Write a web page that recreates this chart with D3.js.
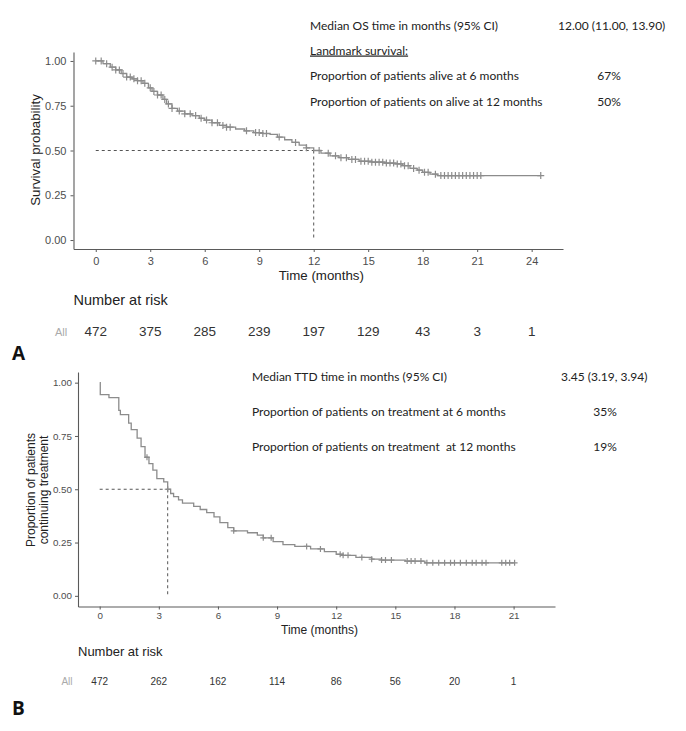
<!DOCTYPE html>
<html>
<head>
<meta charset="utf-8">
<script src="https://cdn.jsdelivr.net/npm/d3@7"></script>
<style>
  body { margin: 0; background: #fff; }
  svg { display: block; }
</style>
</head>
<body>
<div id="chart"></div>
<script>
// ---- panel A: overall survival ----
var osTimes = [0, 0.4, 0.8, 1.1, 1.4, 1.7, 2.0, 2.3, 2.6, 2.9, 3.1, 3.4, 3.7, 3.9, 4.2, 4.5, 4.9, 5.3, 5.7, 6.0,
  6.4, 6.8, 7.2, 7.7, 8.2, 8.7, 9.2, 9.6, 10.0, 10.4, 10.8, 11.2, 11.6, 12.0, 12.4, 12.9, 13.4, 13.9, 14.5,
  15.2, 15.9, 16.5, 16.9, 17.3, 17.7, 18.0, 18.4, 18.8, 24.5];
var osSurv = [1, 0.985, 0.965, 0.95, 0.93, 0.91, 0.9, 0.89, 0.875, 0.85, 0.83, 0.81, 0.785, 0.76, 0.735, 0.72, 0.705, 0.695, 0.68, 0.67,
  0.655, 0.64, 0.63, 0.62, 0.61, 0.6, 0.595, 0.59, 0.575, 0.56, 0.545, 0.53, 0.515, 0.5, 0.485, 0.47, 0.46, 0.45, 0.44,
  0.435, 0.43, 0.425, 0.415, 0.4, 0.39, 0.378, 0.368, 0.36, 0.36];
var osCensor = [0, 0.3, 0.6, 0.9, 1.1, 1.3, 1.5, 1.7, 1.9, 2.1, 2.3, 2.5, 2.7, 3.0, 3.2, 3.4, 3.6, 3.8, 4.0, 4.2,
  4.6, 4.9, 5.2, 5.5, 5.8, 6.1, 6.4, 6.7, 7.0, 7.2, 7.4, 8.3, 8.8, 9.0, 9.2, 9.4, 10.1, 11.0, 11.6, 12.3, 12.8,
  13.2, 13.5, 13.8, 14.1, 14.3, 14.6, 14.8, 15.0, 15.2, 15.4, 15.6, 15.8, 16.0, 16.2, 16.4, 16.6, 16.8, 17.0,
  17.2, 17.5, 17.8, 18.1, 18.3, 18.7, 19.0, 19.2, 19.4, 19.6, 19.8, 20.0, 20.2, 20.4, 20.6, 20.8, 21.0, 21.2, 24.5];
var osTicks = [0, 3, 6, 9, 12, 15, 18, 21, 24];
var osRisk = [472, 375, 285, 239, 197, 129, 43, 3, 1];
var osMedian = 12.0;
var osLabels = ["Median OS time in months (95% CI)", "Landmark survival:",
  "Proportion of patients alive at 6 months", "Proportion of patients on alive at 12 months"];
var osValues = ["12.00 (11.00, 13.90)", "", "67%", "50%"];

// ---- panel B: time to treatment discontinuation ----
var ttdTimes = [0, 0.03, 0.47, 0.97, 1.05, 1.47, 1.6, 1.9, 2.1, 2.3, 2.5, 2.7, 2.9, 3.25, 3.45, 3.6, 3.75, 4.0, 4.2, 4.77,
  5.1, 5.43, 5.8, 6.1, 6.5, 6.8, 7.5, 8.0, 8.3, 8.8, 9.3, 9.9, 10.7, 11.4, 12.0, 12.35, 13.0, 13.8, 14.3, 15.5, 16.5, 21.05];
var ttdSurv = [1, 0.944, 0.93, 0.87, 0.85, 0.81, 0.78, 0.74, 0.7, 0.65, 0.62, 0.59, 0.55, 0.535, 0.5, 0.48, 0.465, 0.45, 0.435, 0.42,
  0.405, 0.39, 0.37, 0.343, 0.32, 0.305, 0.296, 0.285, 0.272, 0.254, 0.24, 0.232, 0.22, 0.207, 0.195, 0.19, 0.18, 0.172, 0.168, 0.163, 0.155, 0.155];
var ttdCensor = [2.4, 3.45, 6.8, 8.3, 8.7, 10.5, 11.2, 12.2, 12.35, 12.6, 13.3, 13.8, 14.3, 14.5, 14.8, 15.6, 15.8, 16.0, 16.3,
  16.6, 16.9, 17.2, 17.5, 17.8, 18.0, 18.3, 18.6, 18.9, 19.1, 19.4, 19.6, 20.4, 20.6, 20.8, 21.05];
var ttdTicks = [0, 3, 6, 9, 12, 15, 18, 21];
var ttdRisk = [472, 262, 162, 114, 86, 56, 20, 1];
var ttdMedian = 3.45;
var ttdLabels = ["Median TTD time in months (95% CI)",
  "Proportion of patients on treatment at 6 months", "Proportion of patients on treatment\u00a0 at 12 months"];
var ttdValues = ["3.45 (3.19, 3.94)", "35%", "19%"];

var yTicks = [0, 0.25, 0.5, 0.75, 1];

var svg = d3.select("#chart").append("svg")
  .attr("width", 686)
  .attr("height", 731);

var curveColor = "#8c8c8c";
var axisColor = "#5a5a5a";
var tickText = "#4d4d4d";
var bodyFont = "Lato, 'Open Sans', sans-serif";
var chartFont = "'Liberation Sans', Arial, sans-serif";

function survAt(times, surv, t) {
  var i = d3.bisectRight(times, t) - 1;
  return surv[Math.max(0, i)];
}

function drawPanel(p) {
  var x = d3.scaleLinear().domain(p.xDomain).range(p.xRange);
  var y = d3.scaleLinear().domain([-0.05, 1.05]).range(p.yRange);
  var g = svg.append("g");

  // axes
  var xAxis = g.append("g")
    .attr("transform", "translate(0," + p.yRange[0] + ")")
    .call(d3.axisBottom(x).tickValues(p.ticks).tickFormat(d3.format("d")).tickSize(3).tickPadding(p.xPad).tickSizeOuter(0));
  var yAxis = g.append("g")
    .attr("transform", "translate(" + p.xRange[0] + ",0)")
    .call(d3.axisLeft(y).tickValues(yTicks).tickFormat(d3.format(".2f")).tickSize(3).tickPadding(p.yPad).tickSizeOuter(0));
  [xAxis, yAxis].forEach(function(a) {
    a.select(".domain").attr("stroke", axisColor).attr("stroke-width", 1.1);
    a.selectAll(".tick line").attr("stroke", axisColor);
    a.selectAll(".tick text").attr("fill", tickText)
      .style("font-family", chartFont).style("font-size", p.tickSize + "px");
  });

  // median lines
  g.append("line")
    .attr("x1", x(0)).attr("x2", x(p.median))
    .attr("y1", y(0.5)).attr("y2", y(0.5))
    .attr("stroke", "#555").attr("stroke-dasharray", "3,3").attr("stroke-width", 1);
  g.append("line")
    .attr("x1", x(p.median)).attr("x2", x(p.median))
    .attr("y1", y(0.5)).attr("y2", y(0))
    .attr("stroke", "#555").attr("stroke-dasharray", "3,3").attr("stroke-width", 1);

  // survival curve
  var pts = p.times.map(function(t, i) { return [t, p.surv[i]]; });
  var line = d3.line()
    .x(function(d) { return x(d[0]); })
    .y(function(d) { return y(d[1]); })
    .curve(d3.curveStepAfter);
  g.append("path")
    .datum(pts)
    .attr("d", line)
    .attr("fill", "none")
    .attr("stroke", curveColor)
    .attr("stroke-width", 1.3);

  // censor marks
  var s = p.markSize;
  g.selectAll(".censor")
    .data(p.censor)
    .enter()
    .append("path")
    .attr("class", "censor")
    .attr("d", function(t) {
      var cx = x(t), cy = y(survAt(p.times, p.surv, t));
      return "M" + (cx - s) + "," + cy + "h" + (2 * s) + "M" + cx + "," + (cy - s) + "v" + (2 * s);
    })
    .attr("stroke", curveColor)
    .attr("stroke-width", 1.2)
    .attr("fill", "none");

  // axis titles
  g.append("text")
    .attr("x", (p.xRange[0] + p.xRange[1]) / 2 + 3)
    .attr("y", p.xTitleY)
    .attr("text-anchor", "middle")
    .style("font-family", chartFont).style("font-size", p.titleSize + "px")
    .attr("fill", "#222")
    .text("Time (months)");
  p.yTitle.forEach(function(t, i) {
    g.append("text")
      .attr("transform", "translate(" + p.yTitleX[i] + "," + p.yTitleCY + ") rotate(-90)")
      .attr("text-anchor", "middle")
      .style("font-family", chartFont).style("font-size", p.titleSize + "px")
      .attr("fill", "#222")
      .text(t);
  });

  // number at risk
  g.append("text")
    .attr("x", p.xRange[0])
    .attr("y", p.riskTitleY)
    .style("font-family", chartFont).style("font-size", p.riskTitleSize + "px")
    .attr("fill", "#222")
    .text("Number at risk");
  g.append("text")
    .attr("x", p.allX)
    .attr("y", p.riskY)
    .attr("text-anchor", "middle")
    .style("font-family", chartFont).style("font-size", p.allSize + "px")
    .attr("fill", "#aaa")
    .text("All");
  g.selectAll(".risk")
    .data(p.risk)
    .enter()
    .append("text")
    .attr("x", function(d, i) { return x(p.ticks[i]); })
    .attr("y", p.riskY)
    .attr("text-anchor", "middle")
    .style("font-family", chartFont).style("font-size", p.riskSize + "px")
    .attr("fill", "#333")
    .text(function(d) { return d; });

  // stats text block
  p.labels.forEach(function(t, i) {
    g.append("text")
      .attr("x", p.textX)
      .attr("y", p.textY[i])
      .style("font-family", bodyFont).style("font-size", "12px")
      .style("text-decoration", p.underline === i ? "underline" : null)
      .attr("fill", "#222")
      .text(t);
    var v = p.values[i];
    if (v) {
      g.append("text")
        .attr("x", i === 0 ? p.valueX : p.pctX)
        .attr("y", p.textY[i])
        .attr("text-anchor", i === 0 ? "start" : "middle")
        .style("font-family", bodyFont).style("font-size", "12px")
        .attr("fill", "#222")
        .text(v);
    }
  });

  // panel letter
  g.append("text")
    .attr("x", 12)
    .attr("y", p.letterY)
    .style("font-family", "'Open Sans', sans-serif").style("font-size", "19px").style("font-weight", "bold")
    .attr("fill", "#111")
    .text(p.letter);
}

drawPanel({
  times: osTimes, surv: osSurv, censor: osCensor, ticks: osTicks, risk: osRisk, median: osMedian,
  labels: osLabels, values: osValues, underline: 1,
  xDomain: [-1.225, 25.725], xRange: [73.5, 563], yRange: [249, 52],
  xPad: 5, yPad: 4, tickSize: 11, titleSize: 13.3, markSize: 3.5,
  xTitleY: 280, yTitle: ["Survival probability"], yTitleX: [40], yTitleCY: 150,
  riskTitleY: 305, riskTitleSize: 14.5, riskY: 336, riskSize: 13.5, allX: 61, allSize: 11,
  textX: 310, textY: [29.5, 54.5, 79.5, 105.5], valueX: 558, pctX: 609,
  letter: "A", letterY: 360
});

drawPanel({
  times: ttdTimes, surv: ttdSurv, censor: ttdCensor, ticks: ttdTicks, risk: ttdRisk, median: ttdMedian,
  labels: ttdLabels, values: ttdValues, underline: -1,
  xDomain: [-1.1, 23.1], xRange: [78, 555], yRange: [606.5, 372],
  xPad: 3, yPad: 3, tickSize: 9.8, titleSize: 12, markSize: 3,
  xTitleY: 633.5, yTitle: ["Proportion of patients", "continuing treatment"], yTitleX: [34.5, 47.5], yTitleCY: 490,
  riskTitleY: 655.5, riskTitleSize: 13, riskY: 684.5, riskSize: 10, allX: 67, allSize: 10,
  textX: 252, textY: [380.5, 415.5, 450.5], valueX: 561, pctX: 605,
  letter: "B", letterY: 715
});
</script>
</body>
</html>
